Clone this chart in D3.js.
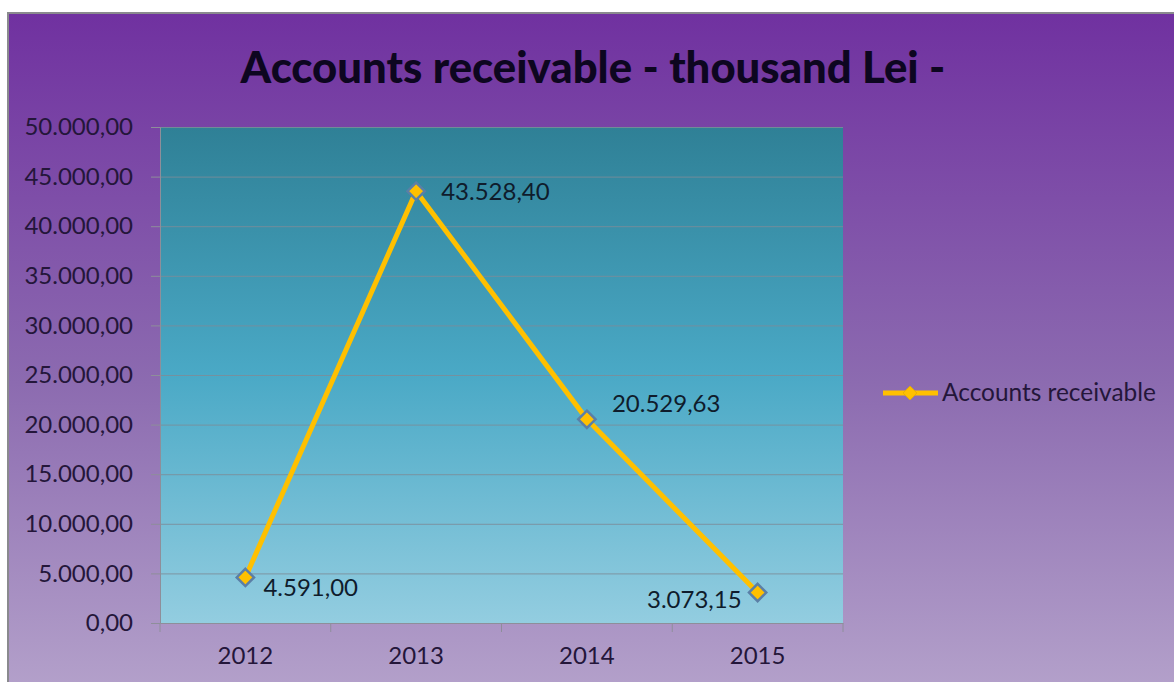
<!DOCTYPE html>
<html>
<head>
<meta charset="utf-8">
<script src="https://cdn.jsdelivr.net/npm/d3@7"></script>
<style>
  html, body { margin: 0; padding: 0; background: #ffffff; }
  svg { display: block; }
  text { font-family: Lato, "Open Sans", sans-serif; }
</style>
</head>
<body>
<svg id="chart" width="1174" height="682"></svg>
<script>
// Chart data
const years = ["2012", "2013", "2014", "2015"];
const receivables = [4591.00, 43528.40, 20529.63, 3073.15];
const yTicks = [0, 5000, 10000, 15000, 20000, 25000, 30000, 35000, 40000, 45000, 50000];
const chartTitle = "Accounts receivable - thousand Lei -";
const seriesName = "Accounts receivable";

// Romanian-style number format: 43.528,40
const fmt = d3.formatLocale({ decimal: ",", thousands: ".", grouping: [3], currency: ["", " Lei"] }).format(",.2f");

const W = 1174, H = 682;
const plot = { left: 160, top: 127, right: 843, bottom: 623 };

const svg = d3.select("#chart");
const defs = svg.append("defs");

const bgGrad = defs.append("linearGradient").attr("id", "bgGrad")
  .attr("x1", 0).attr("y1", 0).attr("x2", 0).attr("y2", 1);
bgGrad.append("stop").attr("offset", "0%").attr("stop-color", "#7031a0");
bgGrad.append("stop").attr("offset", "55%").attr("stop-color", "#8c6bb0");
bgGrad.append("stop").attr("offset", "100%").attr("stop-color", "#b3a0ca");

const plotGrad = defs.append("linearGradient").attr("id", "plotGrad")
  .attr("x1", 0).attr("y1", 0).attr("x2", 0).attr("y2", 1);
plotGrad.append("stop").attr("offset", "0%").attr("stop-color", "#2f8096");
plotGrad.append("stop").attr("offset", "50%").attr("stop-color", "#4aa9c6");
plotGrad.append("stop").attr("offset", "100%").attr("stop-color", "#93cde0");

// Chart area with frame
svg.append("rect").attr("x", 8).attr("y", 13).attr("width", W - 8 + 4).attr("height", H - 13 + 4)
  .attr("fill", "url(#bgGrad)").attr("stroke", "#8a8a8e").attr("stroke-width", 2);

// Title, sized to span its measured width
const title = svg.append("text")
  .attr("x", 593).attr("y", 83)
  .attr("text-anchor", "middle")
  .attr("font-weight", 900)
  .attr("font-size", 44)
  .attr("fill", "#0d0620")
  .text(chartTitle);
const tLen = title.node().getComputedTextLength();
title.attr("font-size", 44 * 705 / tLen);

// Scales
const x = d3.scaleBand().domain(years).range([plot.left, plot.right]);
const y = d3.scaleLinear().domain([0, 50000]).range([plot.bottom, plot.top]);

// Plot area
svg.append("rect")
  .attr("x", plot.left).attr("y", plot.top)
  .attr("width", plot.right - plot.left).attr("height", plot.bottom - plot.top)
  .attr("fill", "url(#plotGrad)");

// Horizontal gridlines
svg.append("g").selectAll("line").data(yTicks.filter(d => d > 0)).join("line")
  .attr("x1", plot.left).attr("x2", plot.right)
  .attr("y1", d => y(d) + 0.5).attr("y2", d => y(d) + 0.5)
  .attr("stroke", "#7d8d99").attr("stroke-width", 1).attr("opacity", 0.85);

// Y axis
const yAxis = svg.append("g").attr("transform", `translate(${plot.left},0)`)
  .call(d3.axisLeft(y).tickValues(yTicks).tickFormat(fmt).tickSize(9).tickPadding(18));
yAxis.select(".domain").attr("stroke", "#8e8e9a");
yAxis.selectAll(".tick line").attr("stroke", "#8e8e9a");
yAxis.selectAll(".tick text")
  .attr("font-family", "Lato, 'Open Sans', sans-serif")
  .attr("font-size", 24).attr("fill", "#24163a");

// X axis with ticks at category boundaries
const xAxis = svg.append("g").attr("transform", `translate(0,${plot.bottom})`)
  .call(d3.axisBottom(x).tickSize(0).tickPadding(24));
xAxis.select(".domain").attr("stroke", "#8e8e9a");
xAxis.selectAll(".tick text")
  .attr("font-family", "Lato, 'Open Sans', sans-serif")
  .attr("font-size", 24).attr("fill", "#24163a");
const bounds = years.map(d => x(d)).concat([x(years[years.length - 1]) + x.bandwidth()]);
svg.append("g").selectAll("line").data(bounds).join("line")
  .attr("x1", d => d).attr("x2", d => d)
  .attr("y1", plot.bottom).attr("y2", plot.bottom + 9)
  .attr("stroke", "#8e8e9a");

const cx = d => x(d) + x.bandwidth() / 2;
const pts = years.map((yr, i) => ({ yr, v: receivables[i] }));

// Series line
svg.append("path").datum(pts)
  .attr("d", d3.line().x(d => cx(d.yr)).y(d => y(d.v)))
  .attr("fill", "none").attr("stroke", "#ffc000").attr("stroke-width", 5)
  .attr("stroke-linejoin", "round");

// Diamond markers
const diamond = d3.symbol().type(d3.symbolDiamond2).size(190);
svg.append("g").selectAll("path").data(pts).join("path")
  .attr("transform", d => `translate(${cx(d.yr)},${y(d.v)})`)
  .attr("d", diamond)
  .attr("fill", "#ffc000").attr("stroke", "#5b7fa6").attr("stroke-width", 2.5);

// Value labels
const labelOffset = [
  { dx: 18, dy: 19, anchor: "start" },
  { dx: 25, dy: 9, anchor: "start" },
  { dx: 25, dy: -7, anchor: "start" },
  { dx: -16, dy: 15, anchor: "end" }
];
svg.append("g").selectAll("text").data(pts).join("text")
  .attr("x", (d, i) => cx(d.yr) + labelOffset[i].dx)
  .attr("y", (d, i) => y(d.v) + labelOffset[i].dy)
  .attr("text-anchor", (d, i) => labelOffset[i].anchor)
  .attr("font-size", 24).attr("fill", "#0f1c2c")
  .text(d => fmt(d.v));

// Legend
const legY = 393;
const leg = svg.append("g");
leg.append("line").attr("x1", 883).attr("x2", 938).attr("y1", legY).attr("y2", legY)
  .attr("stroke", "#ffc000").attr("stroke-width", 5);
leg.append("path").attr("transform", `translate(910,${legY})`)
  .attr("d", d3.symbol().type(d3.symbolDiamond2).size(120))
  .attr("fill", "#ffc000").attr("stroke", "#e8b000").attr("stroke-width", 1);
const legText = leg.append("text").attr("x", 942).attr("y", legY + 8)
  .attr("font-size", 22).attr("fill", "#24163a").text(seriesName);
const lLen = legText.node().getComputedTextLength();
legText.attr("font-size", 22 * 214 / lLen);
</script>
</body>
</html>
